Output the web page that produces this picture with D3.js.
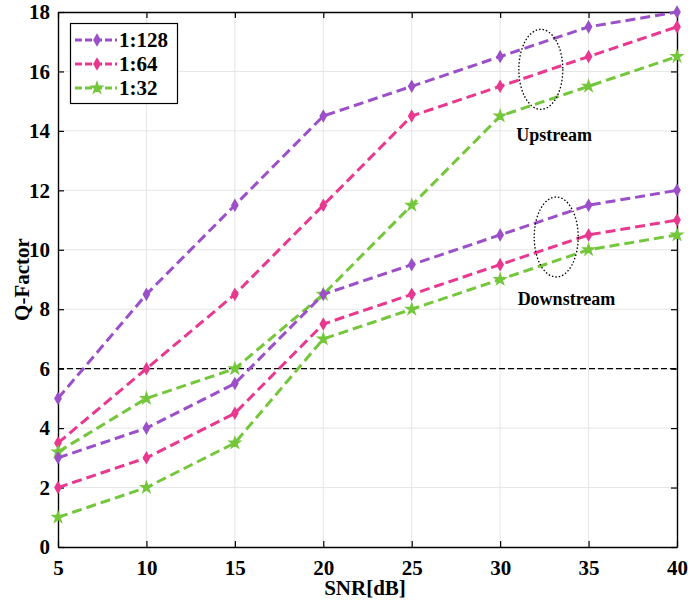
<!DOCTYPE html>
<html><head><meta charset="utf-8">
<script src="https://cdn.jsdelivr.net/npm/d3@7"></script>
<style>body{margin:0;background:#fff}svg{display:block}</style>
</head><body>
<svg id="c" width="688" height="608"></svg>
<script>
const snr = [5, 10, 15, 20, 25, 30, 35, 40];
const seriesNames = ["1:128", "1:64", "1:32"];
const up128 = [5, 8.5, 11.5, 14.5, 15.5, 16.5, 17.5, 18];
const up64 = [3.5, 6, 8.5, 11.5, 14.5, 15.5, 16.5, 17.5];
const up32 = [3.2, 5, 6, 8.5, 11.5, 14.5, 15.5, 16.5];
const down128 = [3, 4, 5.5, 8.5, 9.5, 10.5, 11.5, 12];
const down64 = [2, 3, 4.5, 7.5, 8.5, 9.5, 10.5, 11];
const down32 = [1, 2, 3.5, 7, 8, 9, 10, 10.5];
const xTicks = [5, 10, 15, 20, 25, 30, 35, 40];
const yTicks = [0, 2, 4, 6, 8, 10, 12, 14, 16, 18];
const threshold = 6;
const annotations = [
  {label: "Upstream", ex: 32.3, ey: 16.07, tx: 33.05, ty: 13.65},
  {label: "Downstream", ex: 33.17, ey: 10.43, tx: 33.75, ty: 8.15}
];

const colors = {"1:128": "#9b4fc9", "1:64": "#e8388f", "1:32": "#74c73b"};
const series = [
  {name: "1:128", vals: up128, m: "d"},
  {name: "1:64", vals: up64, m: "d"},
  {name: "1:32", vals: up32, m: "s"},
  {name: "1:128", vals: down128, m: "d"},
  {name: "1:64", vals: down64, m: "d"},
  {name: "1:32", vals: down32, m: "s"}
];

const L = 58, R = 677, T = 12, B = 547;
const x = d3.scaleLinear().domain([5, 40]).range([L, R]);
const y = d3.scaleLinear().domain([0, 18]).range([B, T]);
const svg = d3.select("#c");
const font = "'Liberation Serif','Times New Roman',serif";

// grid
svg.append("g").selectAll("line").data(xTicks.slice(1, -1)).join("line")
  .attr("x1", d => x(d)).attr("x2", d => x(d)).attr("y1", T).attr("y2", B)
  .attr("stroke", "#e6e6e6").attr("stroke-width", 1);
svg.append("g").selectAll("line").data(yTicks.slice(1, -1)).join("line")
  .attr("y1", d => y(d)).attr("y2", d => y(d)).attr("x1", L).attr("x2", R)
  .attr("stroke", "#e6e6e6").attr("stroke-width", 1);

// axes (inward ticks)
const ax = (g, axis) => g.call(axis).call(s => s.select(".domain").attr("stroke", "#000").attr("stroke-width", 1.4))
  .call(s => s.selectAll(".tick line").attr("stroke", "#000").attr("stroke-width", 1.2));
const gBottom = svg.append("g").attr("transform", `translate(0,${B})`);
ax(gBottom, d3.axisBottom(x).tickValues(xTicks).tickSizeInner(-6).tickSizeOuter(0).tickPadding(13));
gBottom.selectAll("text").attr("font-family", font).attr("font-weight", "bold").attr("font-size", 21).attr("fill", "#000");
const gLeft = svg.append("g").attr("transform", `translate(${L},0)`);
ax(gLeft, d3.axisLeft(y).tickValues(yTicks).tickSizeInner(-6).tickSizeOuter(0).tickPadding(8));
gLeft.selectAll("text").attr("font-family", font).attr("font-weight", "bold").attr("font-size", 21).attr("fill", "#000");
const gTop = svg.append("g").attr("transform", `translate(0,${T})`);
ax(gTop, d3.axisTop(x).tickValues(xTicks).tickSizeInner(-6).tickSizeOuter(0).tickFormat(""));
const gRight = svg.append("g").attr("transform", `translate(${R},0)`);
ax(gRight, d3.axisRight(y).tickValues(yTicks).tickSizeInner(-6).tickSizeOuter(0).tickFormat(""));

// threshold
svg.append("line").attr("x1", L).attr("x2", R).attr("y1", y(threshold)).attr("y2", y(threshold))
  .attr("stroke", "#000").attr("stroke-width", 1.4).attr("stroke-dasharray", "6,3");

// lines
const line = d3.line().x((d, i) => x(snr[i])).y(d => y(d));
const diamond = d3.symbol().type(d3.symbolDiamond).size(32);
const star = d3.symbol().type(d3.symbolStar).size(36);
series.forEach(s => {
  const c = colors[s.name];
  svg.append("path").datum(s.vals).attr("d", line).attr("fill", "none")
    .attr("stroke", c).attr("stroke-width", 3).attr("stroke-dasharray", "10,5");
  svg.append("g").selectAll("path").data(s.vals).join("path")
    .attr("transform", (d, i) => `translate(${x(snr[i])},${y(d)})`)
    .attr("d", s.m === "d" ? diamond : star).attr("fill", c).attr("stroke", c).attr("stroke-width", 1.5);
});

// annotations
annotations.forEach(a => {
  svg.append("ellipse").attr("cx", x(a.ex)).attr("cy", y(a.ey)).attr("rx", 22).attr("ry", 40)
    .attr("fill", "none").attr("stroke", "#000").attr("stroke-width", 1.3).attr("stroke-dasharray", "1.5,2");
  svg.append("text").attr("x", x(a.tx)).attr("y", y(a.ty)).attr("text-anchor", "middle")
    .attr("font-family", font).attr("font-weight", "bold").attr("font-size", 18).text(a.label);
});

// legend
const lg = svg.append("g");
lg.append("rect").attr("x", 70.5).attr("y", 23.5).attr("width", 107).attr("height", 80)
  .attr("fill", "#fff").attr("stroke", "#000").attr("stroke-width", 1.2);
seriesNames.forEach((n, i) => {
  const yy = 40 + i * 24;
  lg.append("line").attr("x1", 75).attr("x2", 117).attr("y1", yy).attr("y2", yy)
    .attr("stroke", colors[n]).attr("stroke-width", 3).attr("stroke-dasharray", "7,3");
  lg.append("path").attr("transform", `translate(97,${yy})`)
    .attr("d", n === "1:32" ? star : diamond).attr("fill", colors[n]).attr("stroke", colors[n]).attr("stroke-width", 1.5);
  lg.append("text").attr("x", 119).attr("y", yy + 7).attr("font-family", font).attr("font-weight", "bold")
    .attr("font-size", 21).text(n);
});

// axis titles
svg.append("text").attr("x", 365).attr("y", 595).attr("text-anchor", "middle")
  .attr("font-family", font).attr("font-weight", "bold").attr("font-size", 21).text("SNR[dB]");
svg.append("text").attr("transform", `translate(29,${(T + B) / 2}) rotate(-90)`).attr("text-anchor", "middle")
  .attr("font-family", font).attr("font-weight", "bold").attr("font-size", 21).text("Q-Factor");
</script>
</body></html>
